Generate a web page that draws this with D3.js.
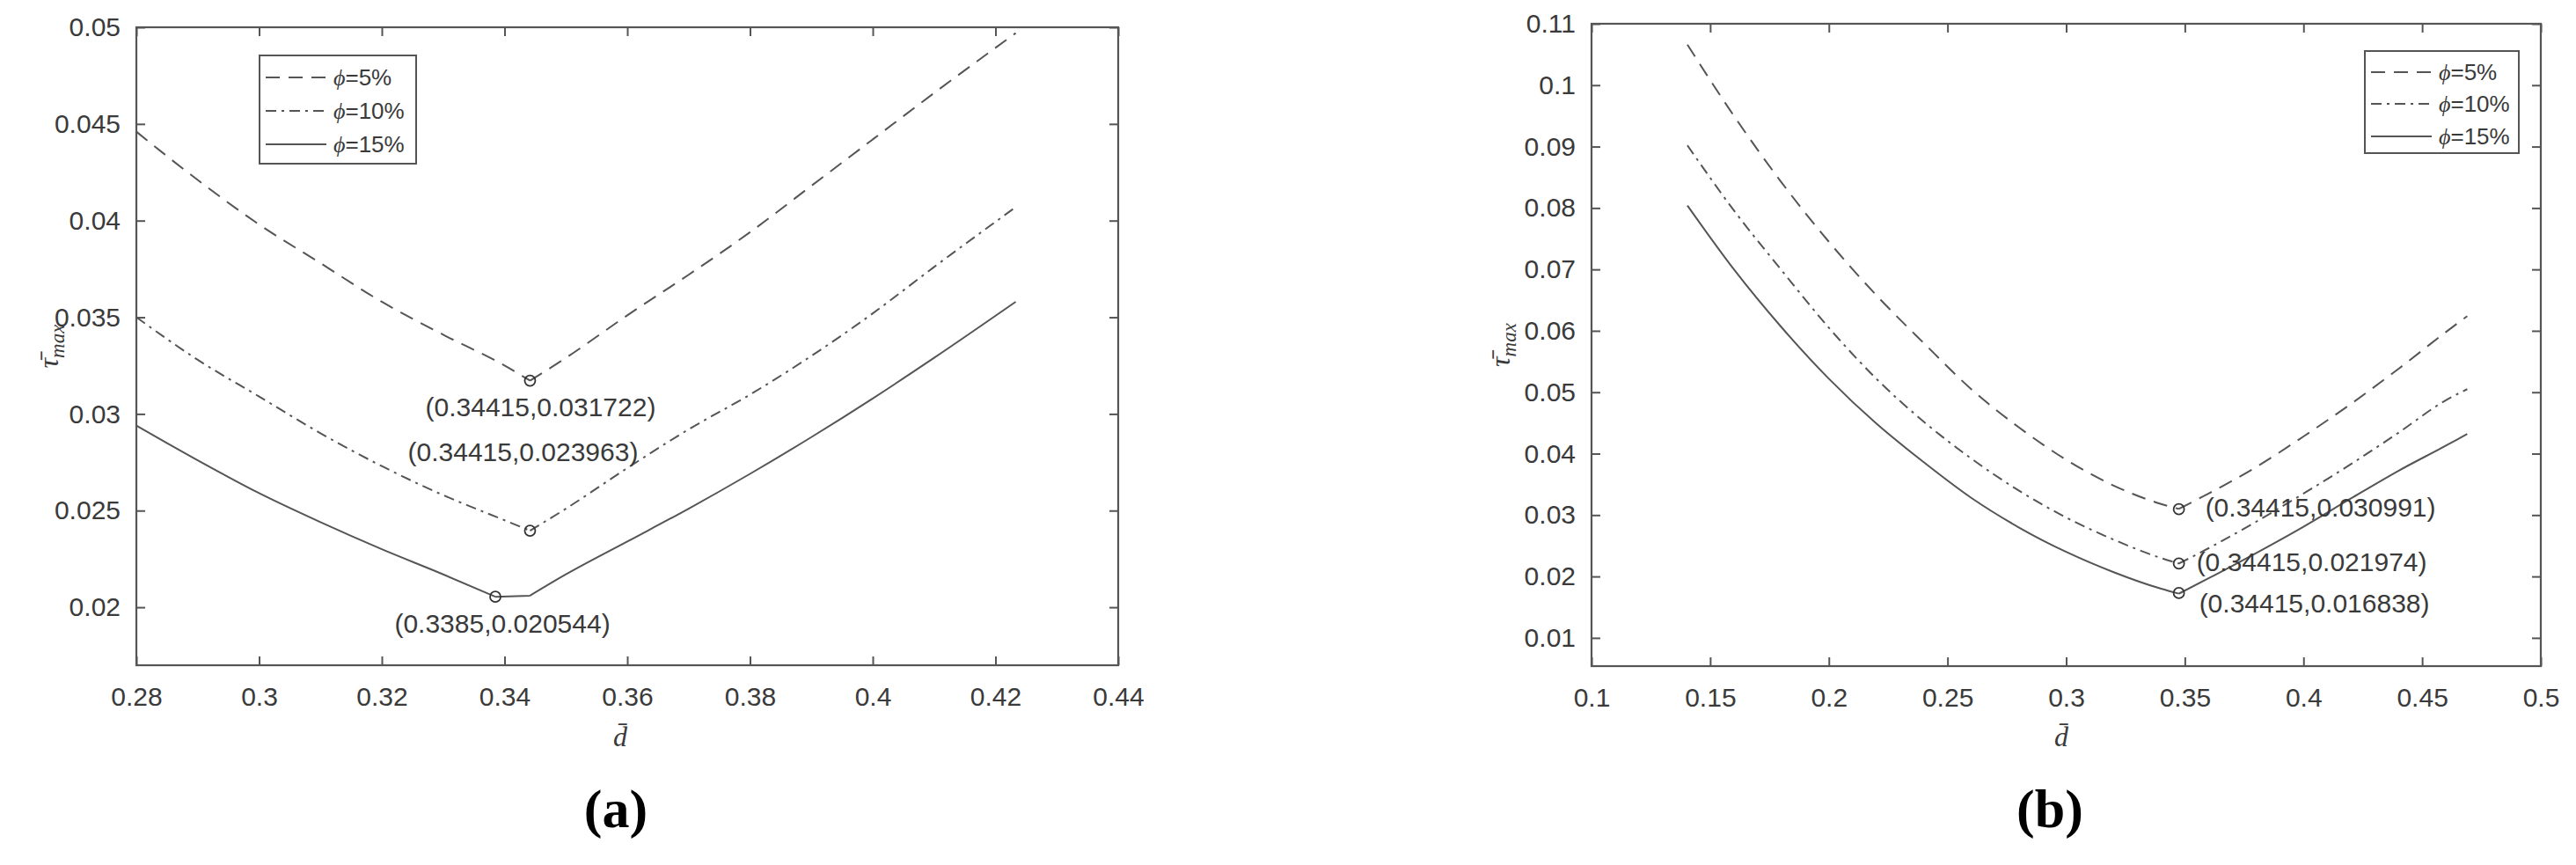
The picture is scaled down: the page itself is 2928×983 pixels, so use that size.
<!DOCTYPE html>
<html><head><meta charset="utf-8">
<script src="https://cdn.jsdelivr.net/npm/d3@7"></script>
<style>body{margin:0;background:#fff}</style>
</head><body>
<svg id="c" width="2928" height="983"></svg>
<script>
// ---------- data ----------
const seriesNames = ["=5%", "=10%", "=15%"];
const seriesDash = ["16,10", "12,6,3,6", null];

// panel (a)
const xTicksA = [0.28, 0.30, 0.32, 0.34, 0.36, 0.38, 0.40, 0.42, 0.44];
const yTicksA = [0.02, 0.025, 0.03, 0.035, 0.04, 0.045, 0.05];
const xDomainA = [0.28, 0.44];
const yDomainA = [0.017, 0.05];
const dA_5   = [0.28, 0.29, 0.30, 0.31, 0.32, 0.33, 0.34, 0.34415, 0.35, 0.36, 0.37, 0.38, 0.39, 0.40, 0.41, 0.4233];
const tA_5   = [0.0446, 0.0421, 0.0398, 0.0378, 0.0358, 0.0341, 0.0325, 0.031722, 0.0329, 0.0351, 0.0372, 0.0394, 0.0418, 0.0442, 0.0466, 0.0497];
const dA_10  = [0.28, 0.29, 0.30, 0.31, 0.32, 0.33, 0.34, 0.34415, 0.35, 0.36, 0.37, 0.38, 0.39, 0.40, 0.41, 0.4233];
const tA_10  = [0.0350, 0.0328, 0.0309, 0.0290, 0.0273, 0.0258, 0.0245, 0.023963, 0.0251, 0.0272, 0.0292, 0.0310, 0.0330, 0.0352, 0.0376, 0.0407];
const dA_15  = [0.28, 0.29, 0.30, 0.31, 0.32, 0.33, 0.3385, 0.34415, 0.35, 0.36, 0.37, 0.38, 0.39, 0.40, 0.41, 0.4233];
const tA_15  = [0.0294, 0.0276, 0.0259, 0.0244, 0.0230, 0.0217, 0.020544, 0.0206, 0.0217, 0.0234, 0.0251, 0.0269, 0.0288, 0.0308, 0.0329, 0.0358];
const minXA = [0.34415, 0.34415, 0.3385];
const minYA = [0.031722, 0.023963, 0.020544];
const minLabelA = ["(0.34415,0.031722)", "(0.34415,0.023963)", "(0.3385,0.020544)"];

// panel (b)
const xTicksB = [0.1, 0.15, 0.2, 0.25, 0.3, 0.35, 0.4, 0.45, 0.5];
const yTicksB = [0.01, 0.02, 0.03, 0.04, 0.05, 0.06, 0.07, 0.08, 0.09, 0.1, 0.11];
const xDomainB = [0.1, 0.5];
const yDomainB = [0.0054, 0.11];
const dB     = [0.1404, 0.16, 0.18, 0.20, 0.22, 0.24, 0.26, 0.28, 0.30, 0.32, 0.34, 0.3475, 0.36, 0.38, 0.40, 0.42, 0.44, 0.46, 0.469];
const tB_5   = [0.1066, 0.0950, 0.0842, 0.0745, 0.0658, 0.0580, 0.0505, 0.0443, 0.0390, 0.0348, 0.0318, 0.0310, 0.0335, 0.0378, 0.0428, 0.0481, 0.0538, 0.0598, 0.0624];
const tB_10  = [0.0902, 0.0796, 0.0699, 0.0605, 0.0522, 0.0452, 0.0392, 0.0340, 0.0296, 0.0260, 0.0230, 0.0221, 0.0246, 0.0289, 0.0335, 0.0383, 0.0434, 0.0487, 0.0505];
const tB_15  = [0.0804, 0.0700, 0.0606, 0.0522, 0.0449, 0.0386, 0.0328, 0.0280, 0.0240, 0.0207, 0.0180, 0.0172, 0.0197, 0.0238, 0.0281, 0.0327, 0.0372, 0.0413, 0.0432];
const minXB = [0.3475, 0.3475, 0.3475];
const minYB = [0.03095, 0.0221, 0.0173];
const minLabelB = ["(0.34415,0.030991)", "(0.34415,0.021974)", "(0.34415,0.016838)"];

// ---------- drawing ----------
const svg = d3.select("#c");
const AX = "#555", TXT = "#3a3a3a", LINE = "#555";
const fmt = v => String(+v.toFixed(4));

function panel(o) {
  const x = d3.scaleLinear().domain(o.xDomain).range([o.left, o.right]);
  const y = d3.scaleLinear().domain(o.yDomain).range([o.bottom, o.top]);
  const g = svg.append("g");

  const styleAxis = (sel, labels) => {
    sel.select(".domain").remove();
    sel.selectAll(".tick line").attr("stroke", AX).attr("stroke-width", 2);
    sel.selectAll(".tick text").attr("fill", TXT)
      .style("font-family", "Liberation Sans, Arial, sans-serif").style("font-size", "30px");
    if (!labels) sel.selectAll(".tick text").remove();
  };
  g.append("g").attr("transform", `translate(0,${o.bottom})`)
    .call(d3.axisBottom(x).tickValues(o.xTicks).tickFormat(fmt).tickSizeInner(-10).tickSizeOuter(0).tickPadding(25))
    .call(s => styleAxis(s, true));
  g.append("g").attr("transform", `translate(0,${o.top})`)
    .call(d3.axisTop(x).tickValues(o.xTicks).tickSizeInner(-10).tickSizeOuter(0))
    .call(s => styleAxis(s, false));
  g.append("g").attr("transform", `translate(${o.left},0)`)
    .call(d3.axisLeft(y).tickValues(o.yTicks).tickFormat(fmt).tickSizeInner(-10).tickSizeOuter(0).tickPadding(18))
    .call(s => styleAxis(s, true));
  g.append("g").attr("transform", `translate(${o.right},0)`)
    .call(d3.axisRight(y).tickValues(o.yTicks).tickSizeInner(-10).tickSizeOuter(0))
    .call(s => styleAxis(s, false));

  g.append("rect").attr("x", o.left).attr("y", o.top)
    .attr("width", o.right - o.left).attr("height", o.bottom - o.top)
    .attr("fill", "none").attr("stroke", AX).attr("stroke-width", 2.2);

  // each curve: smooth left branch, straight bottom (if flat), smooth right branch
  const smooth = d3.line().x(d => x(d[0])).y(d => y(d[1])).curve(d3.curveMonotoneX);
  const straight = d3.line().x(d => x(d[0])).y(d => y(d[1]));
  o.series.forEach((s, i) => {
    const pts = s.xs.map((v, k) => [v, s.ys[k]]);
    const k = d3.minIndex(s.ys);
    let kR = k;
    while (kR + 1 < s.ys.length && s.ys[kR + 1] - s.ys[k] < 1e-4) kR++;
    let d = smooth(pts.slice(0, k + 1));
    if (kR > k) d += straight(pts.slice(k, kR + 1));
    d += smooth(pts.slice(kR));
    g.append("path").attr("d", d)
      .attr("fill", "none").attr("stroke", LINE).attr("stroke-width", 2)
      .attr("stroke-dasharray", seriesDash[i]);
  });

  // minimum markers and labels
  o.minX.forEach((mx, i) => {
    g.append("circle").attr("cx", x(mx)).attr("cy", y(o.minY[i])).attr("r", 6)
      .attr("fill", "none").attr("stroke", "#333").attr("stroke-width", 1.8);
    const lp = o.labelPos[i];
    g.append("text").attr("x", x(mx) + lp[0]).attr("y", y(o.minY[i]) + lp[1])
      .attr("text-anchor", lp[2]).attr("dominant-baseline", "central")
      .attr("fill", TXT).style("font-family", "Liberation Sans, Arial, sans-serif")
      .style("font-size", "30px").text(o.labels[i]);
  });

  // legend
  const L = o.legend;
  g.append("rect").attr("x", L.x).attr("y", L.y).attr("width", L.w).attr("height", L.h)
    .attr("fill", "#fff").attr("stroke", AX).attr("stroke-width", 2);
  seriesNames.forEach((nm, i) => {
    const yy = L.y + L.rows[i];
    g.append("line").attr("x1", L.x + 7).attr("x2", L.x + 76).attr("y1", yy).attr("y2", yy)
      .attr("stroke", LINE).attr("stroke-width", 2).attr("stroke-dasharray", seriesDash[i]);
    const t = g.append("text").attr("x", L.x + 84).attr("y", yy).attr("dominant-baseline", "central")
      .attr("fill", TXT).style("font-family", "Liberation Sans, Arial, sans-serif").style("font-size", "26px");
    t.append("tspan").style("font-family", "Liberation Serif, serif").style("font-style", "italic").text("ϕ");
    t.append("tspan").text(nm);
  });

  // axis titles
  g.append("text").attr("x", o.xLabelX).attr("y", 848).attr("text-anchor", "middle")
    .attr("fill", TXT).style("font-family", "Liberation Serif, serif").style("font-style", "italic")
    .style("font-size", "32px").text("d\u0304");
  const yl = g.append("text").attr("transform", `translate(${o.yLabelX},${(o.top + o.bottom) / 2}) rotate(-90)`)
    .attr("text-anchor", "middle").attr("fill", TXT)
    .style("font-family", "Liberation Serif, serif").style("font-style", "italic").style("font-size", "32px");
  yl.append("tspan").text("\u03c4\u0304");
  yl.append("tspan").attr("dy", 7).style("font-size", "23px").text("max");

  svg.append("text").attr("x", o.capX).attr("y", 940).attr("text-anchor", "middle")
    .attr("fill", "#000").style("font-family", "Liberation Serif, serif").style("font-weight", "bold")
    .style("font-size", "62px").text(o.caption);
}

panel({
  left: 155, right: 1271, top: 31, bottom: 756,
  xDomain: xDomainA, yDomain: yDomainA, xTicks: xTicksA, yTicks: yTicksA,
  series: [{xs: dA_5, ys: tA_5}, {xs: dA_10, ys: tA_10}, {xs: dA_15, ys: tA_15}],
  minX: minXA, minY: minYA, labels: minLabelA,
  labelPos: [[12, 30, "middle"], [-8, -90, "middle"], [8, 30, "middle"]],
  legend: {x: 295, y: 63, w: 178, h: 123, rows: [25, 63, 101]},
  xLabelX: 705, yLabelX: 66, capX: 700, caption: "(a)"
});

panel({
  left: 1809, right: 2888, top: 27, bottom: 757,
  xDomain: xDomainB, yDomain: yDomainB, xTicks: xTicksB, yTicks: yTicksB,
  series: [{xs: dB, ys: tB_5}, {xs: dB, ys: tB_10}, {xs: dB, ys: tB_15}],
  minX: minXB, minY: minYB, labels: minLabelB,
  labelPos: [[30, -2, "start"], [20, -2, "start"], [23, 12, "start"]],
  legend: {x: 2688, y: 58, w: 175, h: 116, rows: [24, 60, 97]},
  xLabelX: 2343, yLabelX: 1716, capX: 2330, caption: "(b)"
});
</script>
</body></html>
